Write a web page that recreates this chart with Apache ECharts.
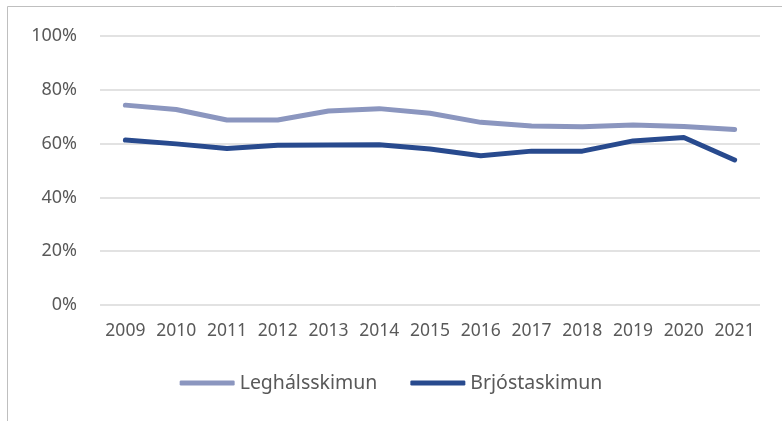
<!DOCTYPE html>
<html>
<head>
<meta charset="utf-8">
<script src="https://cdn.jsdelivr.net/npm/echarts@6/dist/echarts.min.js"></script>
<style>
  html, body { margin: 0; padding: 0; background: #fff; }
  #chart { width: 782px; height: 421px; }
</style>
</head>
<body>
<div id="chart"></div>
<script>
const years = ["2009", "2010", "2011", "2012", "2013", "2014", "2015", "2016", "2017", "2018", "2019", "2020", "2021"];
const leghals = [74.3, 72.7, 68.8, 68.8, 72.1, 73.0, 71.3, 67.9, 66.5, 66.3, 66.9, 66.4, 65.2];
const brjost = [61.3, 59.9, 58.2, 59.4, 59.5, 59.6, 58.0, 55.5, 57.2, 57.2, 61.0, 62.3, 53.9];
const yTicks = [0, 20, 40, 60, 80, 100];

const textColor = "#595959";
const font = "'Noto Sans', sans-serif";

const myChart = echarts.init(document.getElementById("chart"));
myChart.setOption({
  animation: false,
  graphic: [{
    type: "rect",
    shape: { x: 7.5, y: 6.5, width: 800, height: 450 },
    style: { fill: "none", stroke: "#bfbfbf", lineWidth: 1 },
    silent: true
  }],
  grid: { left: 100, right: 22, top: 36, bottom: 116 },
  legend: {
    bottom: 23,
    left: "center",
    itemWidth: 55,
    itemHeight: 5,
    itemGap: 33,
    icon: "roundRect",
    textStyle: { color: textColor, fontSize: 19.5, fontFamily: font },
    data: ["Leghálsskimun", "Brjóstaskimun"]
  },
  xAxis: {
    type: "category",
    data: years,
    boundaryGap: true,
    axisLine: { show: false },
    axisTick: { show: false },
    axisLabel: { color: textColor, fontSize: 17.5, fontFamily: font, margin: 17, interval: 0 }
  },
  yAxis: {
    type: "value",
    min: yTicks[0],
    max: yTicks[yTicks.length - 1],
    interval: 20,
    axisLine: { show: false },
    axisTick: { show: false },
    splitLine: { lineStyle: { color: "#d9d9d9", width: 1.5 } },
    axisLabel: { color: textColor, fontSize: 18, fontFamily: font, margin: 23, formatter: "{value}%" }
  },
  series: [
    {
      name: "Leghálsskimun",
      type: "line",
      data: leghals,
      symbol: "none",
      itemStyle: { color: "#8b96bf" },
      lineStyle: { color: "#8b96bf", width: 5, cap: "round", join: "round" }
    },
    {
      name: "Brjóstaskimun",
      type: "line",
      data: brjost,
      symbol: "none",
      itemStyle: { color: "#284a8e" },
      lineStyle: { color: "#284a8e", width: 5, cap: "round", join: "round" }
    }
  ]
});
</script>
</body>
</html>
